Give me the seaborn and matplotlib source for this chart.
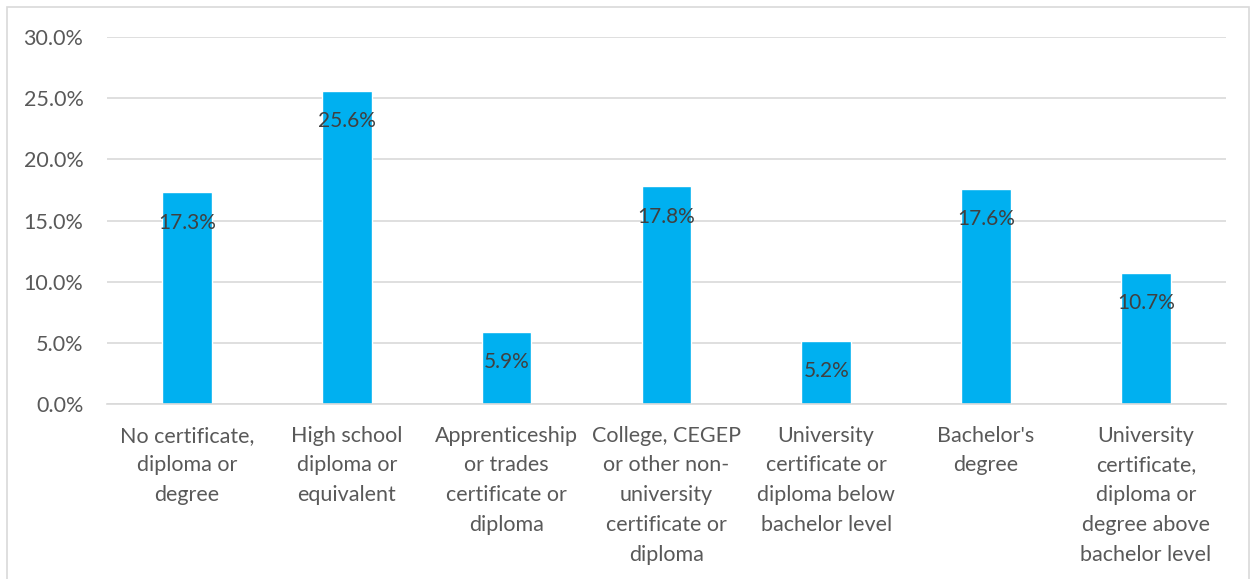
import matplotlib
matplotlib.use("Agg")
import matplotlib.pyplot as plt
import seaborn as sns
import pandas as pd
from matplotlib.patches import Rectangle

categories = [
    "No certificate,\ndiploma or\ndegree",
    "High school\ndiploma or\nequivalent",
    "Apprenticeship\nor trades\ncertificate or\ndiploma",
    "College, CEGEP\nor other non-\nuniversity\ncertificate or\ndiploma",
    "University\ncertificate or\ndiploma below\nbachelor level",
    "Bachelor's\ndegree",
    "University\ncertificate,\ndiploma or\ndegree above\nbachelor level",
]
values = [17.3, 25.6, 5.9, 17.8, 5.2, 17.6, 10.7]
yticks = [0, 5, 10, 15, 20, 25, 30]

df = pd.DataFrame({"level": categories, "pct": values})

sns.set_style("white")
plt.rcParams["font.family"] = ["Lato", "DejaVu Sans"]
text_col = "#595959"
grid_col = "#D9D9D9"

fig = plt.figure(figsize=(12.52, 5.79), dpi=100)
ax = fig.add_axes([0.0855, 0.302, 0.8935, 0.634])

sns.barplot(data=df, x="level", y="pct", color="#00B0F0", width=0.31,
            saturation=1, ax=ax, zorder=2)

ax.set_ylim(0, 30)
ax.set_yticks(yticks)
ax.set_yticklabels([f"{v:.1f}%" for v in yticks])
ax.yaxis.grid(True, color=grid_col, linewidth=1.2, zorder=0)
ax.set_axisbelow(True)
for s in ["top", "right", "left"]:
    ax.spines[s].set_visible(False)
ax.spines["bottom"].set_color(grid_col)
ax.spines["bottom"].set_linewidth(1.2)
ax.set_xlim(-0.5, len(categories) - 0.5)

ax.tick_params(axis="y", length=0, pad=17, labelsize=15.5, labelcolor=text_col)
ax.tick_params(axis="x", length=0, pad=15.5, labelsize=15.5, labelcolor=text_col)
for lab in ax.get_xticklabels():
    lab.set_linespacing(1.61)
ax.set_xlabel("")
ax.set_ylabel("")

ax.bar_label(ax.containers[0], labels=[f"{v:.1f}%" for v in values],
             padding=-29, fontsize=15, color="#404040")

fig.patches.append(Rectangle((0.0056, -0.01), 0.9924, 0.998, transform=fig.transFigure,
                             fill=False, edgecolor=grid_col, linewidth=1.2))

fig.savefig("out.png", dpi=100)
